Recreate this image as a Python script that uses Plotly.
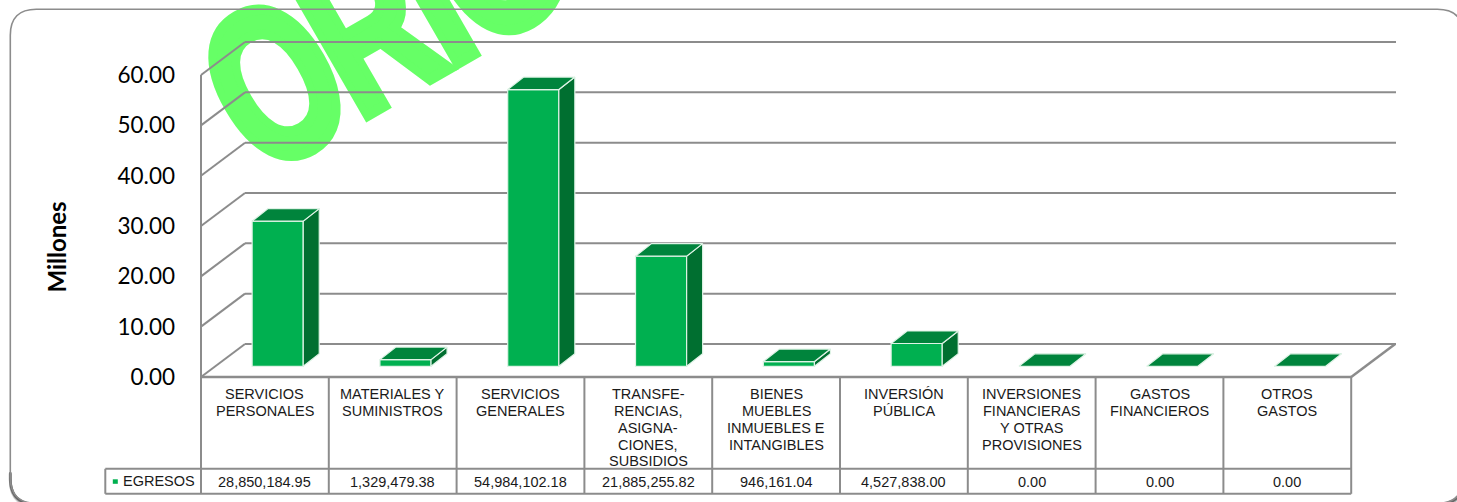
import plotly.graph_objects as go

# Expenditure by budget chapter
categories = [
    ["SERVICIOS", "PERSONALES"],
    ["MATERIALES Y", "SUMINISTROS"],
    ["SERVICIOS", "GENERALES"],
    ["TRANSFE-", "RENCIAS,", "ASIGNA-", "CIONES,", "SUBSIDIOS"],
    ["BIENES", "MUEBLES", "INMUEBLES E", "INTANGIBLES"],
    ["INVERSIÓN", "PÚBLICA"],
    ["INVERSIONES", "FINANCIERAS", "Y OTRAS", "PROVISIONES"],
    ["GASTOS", "FINANCIEROS"],
    ["OTROS", "GASTOS"],
]
egresos = [28850184.95, 1329479.38, 54984102.18, 21885255.82, 946161.04,
           4527838.00, 0.00, 0.00, 0.00]
y_ticks = [0, 10, 20, 30, 40, 50, 60]
series_name = "EGRESOS"
axis_title = "Millones"
stamp_text = "ORIGINAL"

W, H = 1457, 502
LEFT, RIGHT = 200.7, 1395.7      # plot area in page pixels
TOP, BOTTOM = 41.7, 376.7
CAT_W = 127.8
PX_PER_UNIT = 5.033
X_MAX = (RIGHT - LEFT) / CAT_W
Y_MAX = (BOTTOM - TOP) / PX_PER_UNIT

# Depth of the box and of the columns, in axis units
WALL_DX, WALL_DY = 44 / CAT_W, 33 / PX_PER_UNIT
BAR_DX, BAR_DY = 16 / CAT_W, 12.5 / PX_PER_UNIT
BAR_BASE = 10.7 / PX_PER_UNIT
BAR_CENTER, BAR_W = 0.6, 0.4

GREY = "#8c8c8c"
FRONT, ROOF, SIDE = "#00B050", "#00843C", "#006F30"
EDGE = "#dff3e6"

values_m = [v / 1e6 for v in egresos]


def px(x):
    return (x - LEFT) / (RIGHT - LEFT)


def py(y):
    return (BOTTOM - y) / (BOTTOM - TOP)


def data_x(x):
    return x / X_MAX


def data_y(y):
    return y / Y_MAX


def seg(x0, y0, x1, y1, width=2, color=GREY):
    return dict(type="line", xref="paper", yref="paper", layer="below",
                x0=x0, y0=y0, x1=x1, y1=y1, line=dict(color=color, width=width))


shapes = []

# Stamp across the top; its text is stretched after rendering
shapes.append(dict(type="rect", xref="paper", yref="paper", layer="below",
                   x0=px(260), x1=px(300), y0=py(60), y1=py(20),
                   fillcolor="rgba(0,0,0,0)", line=dict(width=0),
                   label=dict(text=stamp_text,
                              font=dict(family="Liberation Sans", size=100, color="#66FF66"))))


def card_path(l, t, r, b, rad):
    return (f"M {px(l)},{py(t + rad)} Q {px(l)},{py(t)} {px(l + rad)},{py(t)} "
            f"L {px(r - rad)},{py(t)} Q {px(r)},{py(t)} {px(r)},{py(t + rad)} "
            f"L {px(r)},{py(b - rad)} Q {px(r)},{py(b)} {px(r - rad)},{py(b)} "
            f"L {px(l + rad)},{py(b)} Q {px(l)},{py(b)} {px(l)},{py(b - rad)} Z")


def corner_shadow(l, r, b, rad):
    # Only the lower corners carry the drop shadow
    return (f"M {px(l)},{py(b - rad - 6)} L {px(l)},{py(b - rad)} Q {px(l)},{py(b)} {px(l + rad)},{py(b)} "
            f"L {px(r - rad)},{py(b)} Q {px(r)},{py(b)} {px(r)},{py(b - rad)} L {px(r)},{py(b - rad - 6)}")


for off, col, wid in [(3, "#e4e4e4", 3), (2, "#b0b0b0", 3), (1, "#666666", 2.5)]:
    shapes.append(dict(type="path", xref="paper", yref="paper", layer="below",
                       path=corner_shadow(10, 1463, 503 + off, 26),
                       fillcolor="rgba(0,0,0,0)", line=dict(color=col, width=wid)))
shapes.append(dict(type="path", xref="paper", yref="paper", layer="below",
                   path=card_path(10, 9, 1463, 503, 26),
                   fillcolor="rgba(0,0,0,0)", line=dict(color=GREY, width=1.6)))

# Wall gridlines running back from the value axis
for t in y_ticks:
    shapes.append(seg(data_x(0), data_y(t), data_x(WALL_DX), data_y(t + WALL_DY)))
    shapes.append(seg(data_x(WALL_DX), data_y(t + WALL_DY), data_x(X_MAX), data_y(t + WALL_DY)))

# Value axis and floor
n = len(categories)
shapes.append(seg(data_x(0), data_y(0), data_x(0), data_y(y_ticks[-1])))
shapes.append(seg(data_x(0), data_y(0), data_x(n), data_y(0), width=2.5))
shapes.append(seg(data_x(n), data_y(0), data_x(n + WALL_DX), data_y(WALL_DY), width=2.5))

# Data table under the plot
ROW1, ROW2 = 468.5, 493.5
LEG_L = 105
for i in range(n + 1):
    shapes.append(seg(data_x(i), data_y(0), data_x(i), py(ROW2), width=2))
shapes.append(seg(px(LEG_L), py(ROW1), data_x(n), py(ROW1)))
shapes.append(seg(px(LEG_L), py(ROW2), data_x(n), py(ROW2)))
shapes.append(seg(px(LEG_L), py(ROW1), px(LEG_L), py(ROW2)))
shapes.append(dict(type="rect", xref="paper", yref="paper", layer="above",
                   x0=px(112.5), x1=px(117.5), y0=py(483.5), y1=py(479),
                   fillcolor=FRONT, line=dict(width=0)))

annotations = []


def note(x, y, text, size=14.5, **kw):
    annotations.append(dict(x=x, y=y, xref="paper", yref="paper", text=text, showarrow=False,
                            font=dict(family="Liberation Sans", size=size, color="#1a1a1a"),
                            xanchor=kw.pop("xanchor", "center"), yanchor="middle", **kw))


LINE_H = 16.75
for i, lines in enumerate(categories):
    for k, line in enumerate(lines):
        note(data_x(i + 0.5), py(394 + k * LINE_H), line)
    note(data_x(i + 0.5), py(482), f"{egresos[i]:,.2f}")
note(px(120.5), py(480.8), series_name, xanchor="left")
annotations.append(dict(x=px(56), y=py(247), xref="paper", yref="paper", text=f"<b>{axis_title}</b>",
                        showarrow=False, textangle=-90, xanchor="center", yanchor="middle",
                        font=dict(family="Lato", size=24, color="#000000")))

# Front faces
xs = [i + BAR_CENTER for i in range(n)]
fig = go.Figure(go.Bar(x=xs, y=values_m, base=BAR_BASE, width=BAR_W, marker=dict(color=FRONT, line=dict(color=EDGE, width=1.2)),
                       showlegend=False, hoverinfo="skip"))

# Roof and side faces, derived from the same values
roof_x, roof_y, side_x, side_y = [], [], [], []
for x, v in zip(xs, values_m):
    l, r = x - BAR_W / 2, x + BAR_W / 2
    top = BAR_BASE + v
    roof_x += [l, r, r + BAR_DX, l + BAR_DX, l, None]
    roof_y += [top, top, top + BAR_DY, top + BAR_DY, top, None]
    if v > 0:
        side_x += [r, r + BAR_DX, r + BAR_DX, r, r, None]
        side_y += [BAR_BASE, BAR_BASE + BAR_DY, top + BAR_DY, top, BAR_BASE, None]

for fx, fy, col in [(side_x, side_y, SIDE), (roof_x, roof_y, ROOF)]:
    fig.add_trace(go.Scatter(x=fx, y=fy, mode="lines", fill="toself", fillcolor=col,
                             line=dict(color=EDGE, width=1.2), showlegend=False, hoverinfo="skip"))

fig.update_layout(
    width=W, height=H, autosize=False,
    margin=dict(l=LEFT, r=W - RIGHT, t=TOP, b=H - BOTTOM, pad=0),
    paper_bgcolor="white", plot_bgcolor="rgba(0,0,0,0)",
    shapes=shapes, annotations=annotations,
    xaxis=dict(range=[0, X_MAX], visible=False, fixedrange=True),
    yaxis=dict(range=[0, Y_MAX], tickvals=y_ticks, tickformat=".2f", ticks="", showgrid=False,
               zeroline=False, showline=False, ticklabelstandoff=25, fixedrange=True,
               tickfont=dict(family="Lato", size=22.5, color="#000000")),
)

# Stretch the stamp lettering: tall, heavy, rising to the right
stamp_js = """
var gd = document.getElementById('{plot_id}');
gd.querySelectorAll('text').forEach(function (t) {
  if (t.textContent === 'ORIGINAL') {
    t.removeAttribute('x'); t.removeAttribute('y');
    t.setAttribute('text-anchor', 'start');
    t.style.textAnchor = 'start';
    t.style.fontWeight = 'bold';
    t.style.letterSpacing = '-4px';
    t.style.stroke = '#66FF66';
    t.style.strokeWidth = '5px';
    t.style.strokeLinejoin = 'miter';
    t.setAttribute('transform', 'translate(261,177) rotate(-30) scale(1.52,2.17)');
  }
});
"""
fig.write_html("out.html", post_script=stamp_js, config=dict(displayModeBar=False))
